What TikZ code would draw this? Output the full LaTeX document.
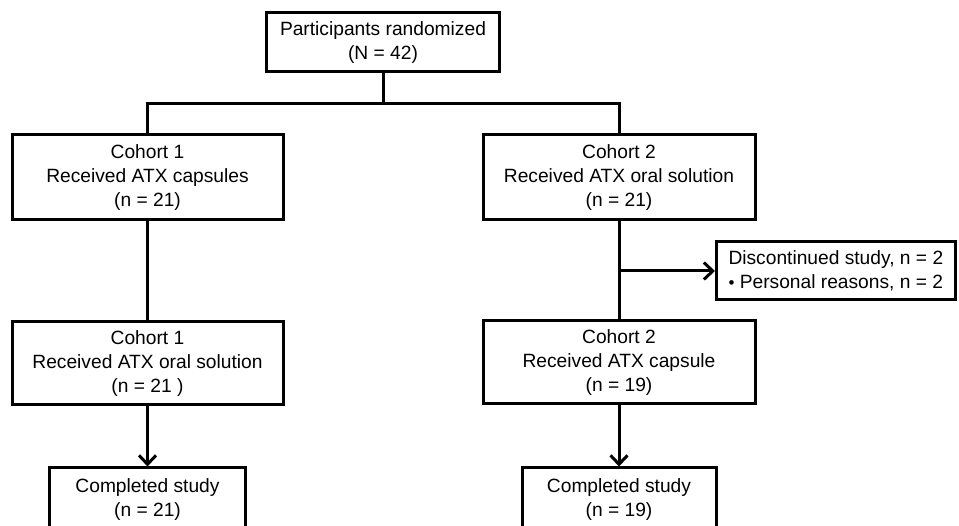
\documentclass[tikz,border=0pt]{standalone}
\usepackage{fontspec}
\setmainfont{Liberation Sans}
\usetikzlibrary{arrows.meta,positioning}

\begin{document}
\begin{tikzpicture}[
  x=1pt, y=-1pt,
  flowbox/.style={
    rectangle, draw=black, line width=3pt,
    fill=white, inner sep=0pt,
    font=\fontsize{19.2}{24}\selectfont,
    align=center
  },
  link/.style={line width=3pt, draw=black},
  conn/.style={link, -{Straight Barb[length=9pt, width=17pt, line width=3pt]}}
]
\useasboundingbox (0,0) rectangle (959,526);

\node[flowbox, minimum width=233, minimum height=59] (rand) at (383,42.5)
  {Participants randomized\\(N = 42)};

\node[flowbox, minimum width=271, minimum height=85] (c1a) at (147.5,177.5)
  {Cohort 1\\Received ATX capsules\\(n = 21)};
\node[flowbox, minimum width=272, minimum height=85] (c2a) at (619,177.5)
  {Cohort 2\\Received ATX oral solution\\(n = 21)};

\node[flowbox, minimum width=271, minimum height=83] (c1b) at (147.5,363.5)
  {Cohort 1\\Received ATX oral solution\\(n = 21 )};
\node[flowbox, minimum width=272, minimum height=83] (c2b) at (619,362.5)
  {Cohort 2\\Received ATX capsule\\(n = 19)};

\node[flowbox, align=left, anchor=west, minimum height=58,
  inner xsep=12pt] (disc) at (715,271)
  {Discontinued study, n = 2\\{\fontsize{17}{17}\selectfont •} Personal reasons, n = 2};

\node[flowbox, minimum width=196, minimum height=64] (done1) at (147.5,500)
  {Completed study\\(n = 21)};
\node[flowbox, minimum width=194, minimum height=64] (done2) at (619,500)
  {Completed study\\(n = 19)};

% randomization split
\draw[link] (rand.south) -- ++(0,30) coordinate (split);
\draw[link] (c1a.north) |- (split) -| (c2a.north);

% cohort 1
\draw[link] (c1a.south) -- (c1b.north);
\draw[conn] (c1b.south) -- (done1.north);

% cohort 2
\draw[link] (c2a.south) -- (c2b.north);
\draw[conn] (c2a.south |- disc.west) -- (disc.west);
\draw[conn] (c2b.south) -- (done2.north);
\end{tikzpicture}
\end{document}
